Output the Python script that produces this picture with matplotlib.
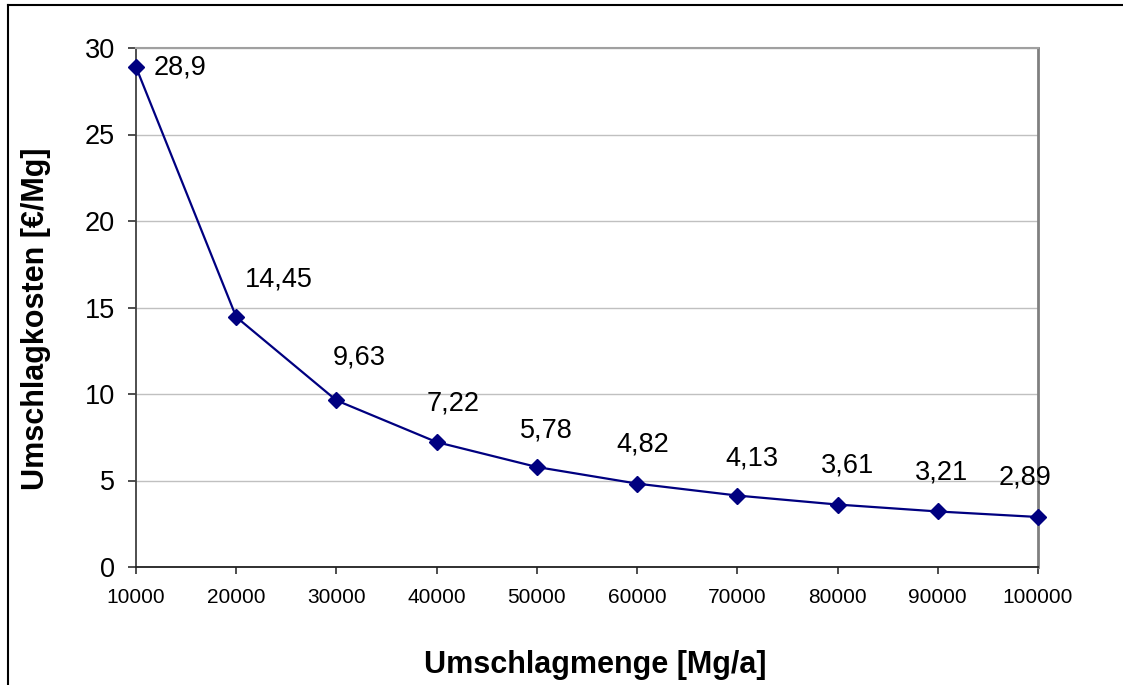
import matplotlib
matplotlib.use("Agg")
import matplotlib.pyplot as plt
from matplotlib.lines import Line2D

plt.rcParams['font.family'] = ['Liberation Sans', 'DejaVu Sans']

# Data
mengen = [10000, 20000, 30000, 40000, 50000, 60000, 70000, 80000, 90000, 100000]
kosten = [28.9, 14.45, 9.63, 7.22, 5.78, 4.82, 4.13, 3.61, 3.21, 2.89]
labels = ["28,9", "14,45", "9,63", "7,22", "5,78", "4,82", "4,13", "3,61", "3,21", "2,89"]
# label offsets in pixels (dx, dy) relative to each point
label_offsets = [(18, 0), (43, 38), (23, 43), (16, 39), (9, 37),
                 (6, 39), (15, 37), (10, 39), (4, 39), (-13, 40)]

W, H = 1123, 685
fig = plt.figure(figsize=(W / 100, H / 100), dpi=100)
fig.patch.set_facecolor('white')

# outer frame (left and top edges)
fig.add_artist(Line2D([8 / W, 8 / W], [0, 1 - 5 / H], transform=fig.transFigure,
                      color='black', lw=1.5))
fig.add_artist(Line2D([8 / W, 1], [1 - 5 / H, 1 - 5 / H], transform=fig.transFigure,
                      color='black', lw=1.5))

left, right, top, bottom = 136, 1038, 48, 567
ax = fig.add_axes([left / W, (H - bottom) / H, (right - left) / W, (bottom - top) / H])

ax.plot(mengen, kosten, color='#000080', lw=1.6, marker='D', markersize=8.5,
        markerfacecolor='#000080', markeredgecolor='#000080', zorder=3, clip_on=False)

for x, y, lab, (dx, dy) in zip(mengen, kosten, labels, label_offsets):
    ha = 'left' if lab == "28,9" else 'center'
    ax.annotate(lab, (x, y), xytext=(dx, dy), textcoords='offset pixels',
                ha=ha, va='center', fontsize=19.5, color='black')

ax.set_xlim(10000, 100000)
ax.set_ylim(0, 30)
ax.set_xticks(mengen)
ax.set_xticklabels([str(m) for m in mengen], fontsize=15)
ax.set_yticks(range(0, 31, 5))
ax.set_yticklabels([str(v) for v in range(0, 31, 5)], fontsize=19.5)

ax.yaxis.grid(True, color='#c0c0c0', lw=1)
ax.set_axisbelow(True)

ax.tick_params(axis='y', direction='out', length=6, width=1.2, color='#303030', pad=9)
ax.tick_params(axis='x', direction='out', length=5, width=1.2, color='#303030', pad=10)

ax.spines['left'].set_color('#404040')
ax.spines['left'].set_linewidth(1.3)
ax.spines['bottom'].set_color('#202020')
ax.spines['bottom'].set_linewidth(1.3)
ax.spines['top'].set_color('#a0a0a0')
ax.spines['top'].set_linewidth(1.5)
ax.spines['right'].set_color('#808080')
ax.spines['right'].set_linewidth(2)

fig.text(36 / W, 1 - 319 / H, "Umschlagkosten [€/Mg]", rotation=90, ha='center', va='center',
         fontsize=22, fontweight='bold')
fig.text(595 / W, 1 - 665 / H, "Umschlagmenge [Mg/a]", ha='center', va='center',
         fontsize=22, fontweight='bold')

fig.savefig("out.png", dpi=100)
